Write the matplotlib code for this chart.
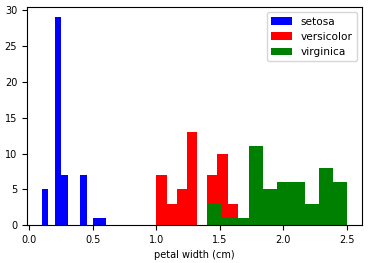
import numpy as np
import matplotlib
matplotlib.use("Agg")
import matplotlib.pyplot as plt

species = ["setosa", "versicolor", "virginica"]
colors = ["blue", "red", "green"]

setosa_values = [0.1, 0.2, 0.3, 0.4, 0.5, 0.6]
setosa_counts = [5, 29, 7, 7, 1, 1]
versicolor_values = [1.0, 1.1, 1.2, 1.3, 1.4, 1.5, 1.6, 1.7, 1.8]
versicolor_counts = [7, 3, 5, 13, 7, 10, 3, 1, 1]
virginica_values = [1.4, 1.5, 1.6, 1.7, 1.8, 1.9, 2.0, 2.1, 2.2, 2.3, 2.4, 2.5]
virginica_counts = [1, 2, 1, 1, 11, 5, 6, 6, 3, 8, 3, 3]

data = [
    np.repeat(setosa_values, setosa_counts),
    np.repeat(versicolor_values, versicolor_counts),
    np.repeat(virginica_values, virginica_counts),
]

plt.rcParams['font.size'] = 7
fig, ax = plt.subplots(figsize=(3.68, 2.63), dpi=100)
fig.subplots_adjust(left=0.073, right=0.984, top=0.973, bottom=0.144)
for d, name, c in zip(data, species, colors):
    ax.hist(d, bins=10, color=c, label=name)
ax.set_xlabel("petal width (cm)")
ax.set_yticks([0, 5, 10, 15, 20, 25, 30])
ax.legend(loc="upper right", fontsize=7.6)
fig.savefig("out.png", dpi=100)
